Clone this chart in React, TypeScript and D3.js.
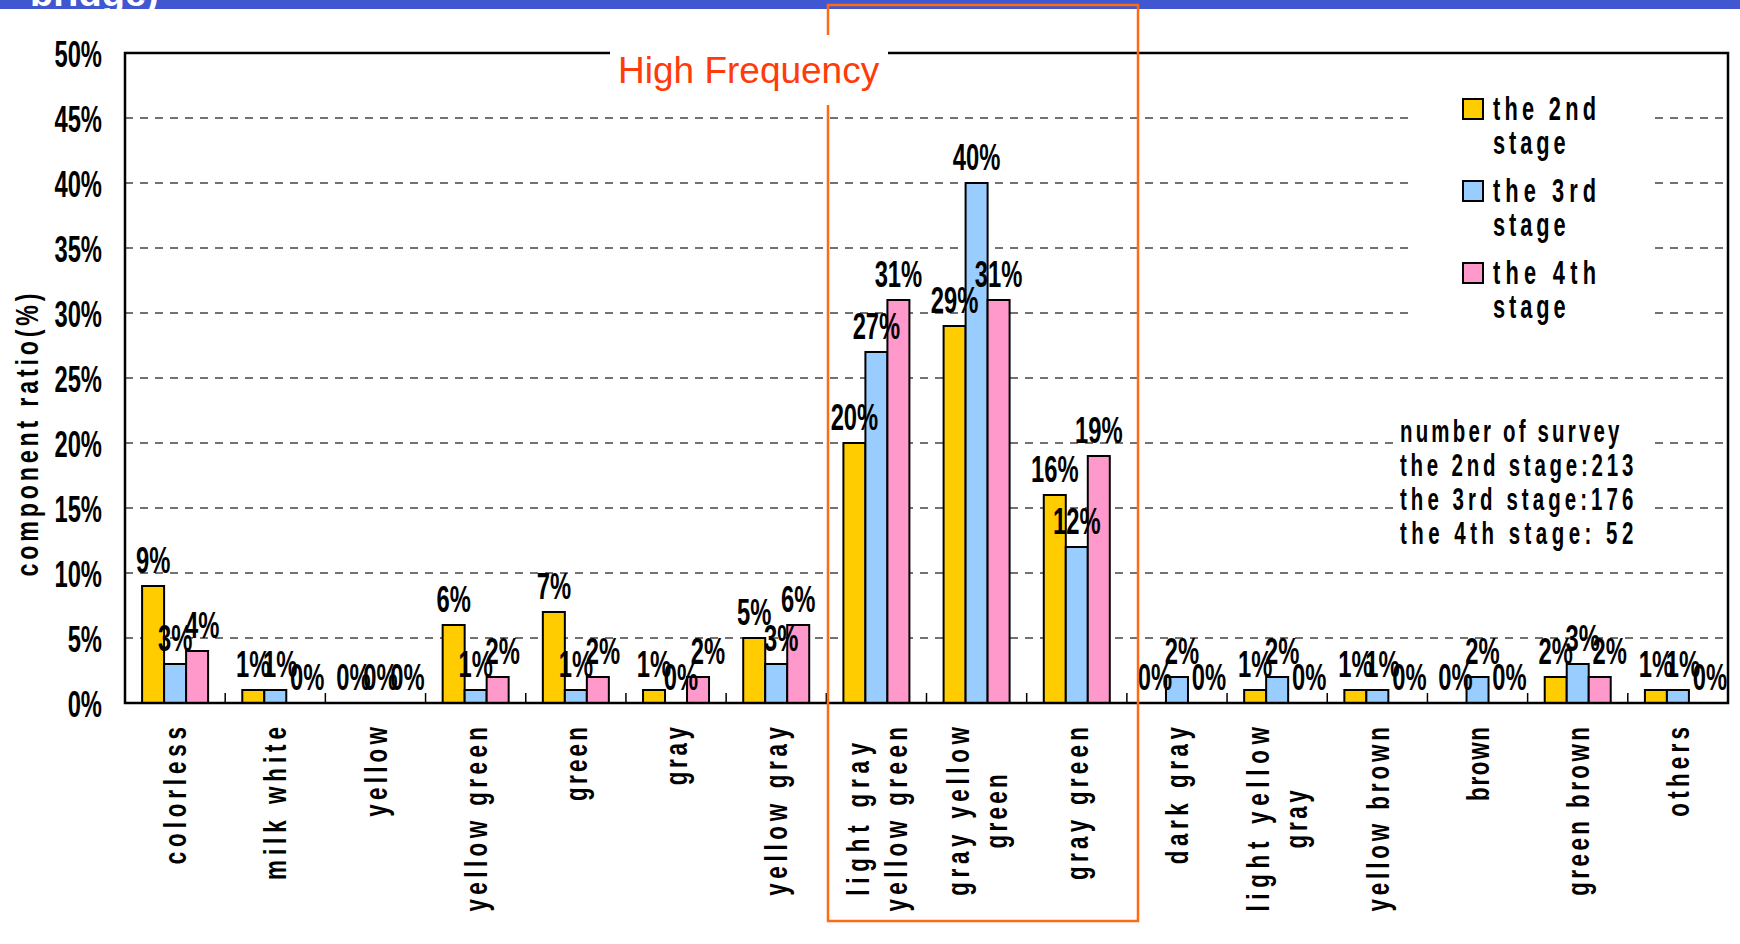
import React from "react";
import * as d3 from "d3";

const categories: string[][] = [
  ["colorless"],
  ["milk white"],
  ["yellow"],
  ["yellow green"],
  ["green"],
  ["gray"],
  ["yellow gray"],
  ["light gray", "yellow green"],
  ["gray yellow", "green"],
  ["gray green"],
  ["dark gray"],
  ["light yellow", "gray"],
  ["yellow brown"],
  ["brown"],
  ["green brown"],
  ["others"],
];
const stage2 = [9, 1, 0, 6, 7, 1, 5, 20, 29, 16, 0, 1, 1, 0, 2, 1];
const stage3 = [3, 1, 0, 1, 1, 0, 3, 27, 40, 12, 2, 2, 1, 2, 3, 1];
const stage4 = [4, 0, 0, 2, 2, 2, 6, 31, 31, 19, 0, 0, 0, 0, 2, 0];
const seriesNames = [["the 2nd", "stage"], ["the 3rd", "stage"], ["the 4th", "stage"]];
const seriesColors = ["#FFCC00", "#99CCFF", "#FF99CC"];
const yTicks = [0, 5, 10, 15, 20, 25, 30, 35, 40, 45, 50];
const surveyLines = ["number of survey", "the 2nd stage:213", "the 3rd stage:176", "the 4th stage: 52"];
const yTitle = "component ratio(%)";
const highlightTitle = "High Frequency";

const W = 1740;
const H = 944;
const M = { left: 125, right: 1728, top: 53, bottom: 703 };
const FONT = "'Liberation Sans', Arial, 'DejaVu Sans', sans-serif";

type STextProps = {
  x: number;
  y: number;
  sx: number;
  size: number;
  anchor?: "start" | "middle" | "end";
  rotate?: number;
  length?: number;
  dy?: string;
  children: React.ReactNode;
};

function SText({ x, y, sx, size, anchor = "start", rotate = 0, length, dy, children }: STextProps) {
  const tr = `translate(${x}, ${y})${rotate ? ` rotate(${rotate})` : ""} scale(${sx}, 1)`;
  return (
    <text
      transform={tr}
      textAnchor={anchor}
      dy={dy}
      fontFamily={FONT}
      fontWeight="bold"
      fontSize={size}
      fill="#000"
      textLength={length !== undefined ? length / sx : undefined}
      lengthAdjust={length !== undefined ? "spacing" : undefined}
    >
      {children}
    </text>
  );
}

export default function App() {
  const series = [stage2, stage3, stage4];
  const x0 = d3
    .scaleBand<number>()
    .domain(d3.range(categories.length))
    .range([M.left, M.right])
    .padding(0);
  const bw = 22;
  const groupW = bw * 3;
  const y = d3.scaleLinear().domain([0, 50]).range([M.bottom, M.top]);
  const band = x0.bandwidth();
  const barX = (ci: number, si: number) => (x0(ci) as number) + (band - groupW) / 2 + si * bw;

  // value label placement: nudge right when labels in a group sit at similar heights
  const minSep = 27;
  const yThresh = 30;
  const labelPos: { x: number; y: number; v: number; si: number; ci: number }[] = [];
  categories.forEach((_, ci) => {
    let prev: { x: number; y: number } | null = null;
    series.forEach((vals, si) => {
      const v = vals[ci];
      const ly = y(v) - 13;
      let lx = barX(ci, si) + bw / 2;
      if (prev && Math.abs(prev.y - ly) < yThresh && lx - prev.x < minSep) {
        lx = prev.x + minSep;
      }
      prev = { x: lx, y: ly };
      labelPos.push({ x: lx, y: ly, v, si, ci });
    });
  });

  const catPitch = 15.8;
  const labelTop = 727;
  const lineGap = 38;

  return (
    <svg
      width={W}
      height={H}
      style={{ position: "absolute", left: 0, top: 0, background: "#fff" }}
      xmlns="http://www.w3.org/2000/svg"
    >
      <defs>
        <clipPath id="bandclip">
          <rect x={0} y={0} width={W} height={9} />
        </clipPath>
      </defs>
      <rect x={0} y={0} width={W} height={H} fill="#fff" />
      {/* top band */}
      <rect x={0} y={0} width={W} height={9} fill="#4157D1" />
      <g clipPath="url(#bandclip)">
        <text x={30} y={6} fill="#fff" fontFamily={FONT} fontWeight="bold" fontSize={38}>
          bridge)
        </text>
      </g>

      {/* gridlines */}
      {yTicks
        .filter((t) => t > 0 && t < 50)
        .map((t) => (
          <line
            key={t}
            x1={M.left}
            x2={M.right}
            y1={y(t)}
            y2={y(t)}
            stroke="#444"
            strokeWidth={1.5}
            strokeDasharray="8,7"
          />
        ))}

      {/* legend background and survey background */}
      <rect x={1408} y={62} width={242} height={278} fill="#fff" />
      <rect x={1393} y={415} width={255} height={140} fill="#fff" />

      {/* x ticks inside */}
      {d3.range(categories.length + 1).map((i) => {
        const xx = M.left + i * band;
        return <line key={i} x1={xx} x2={xx} y1={M.bottom} y2={M.bottom - 10} stroke="#000" strokeWidth={1.5} />;
      })}

      {/* bars */}
      {series.map((vals, si) =>
        vals.map((v, ci) => (
          <rect
            key={`${si}-${ci}`}
            x={barX(ci, si)}
            y={y(v)}
            width={bw}
            height={M.bottom - y(v)}
            fill={seriesColors[si]}
            stroke="#000"
            strokeWidth={2}
          />
        ))
      )}

      {/* frame */}
      <rect x={M.left} y={M.top} width={M.right - M.left} height={M.bottom - M.top} fill="none" stroke="#000" strokeWidth={2.5} />

      {/* value labels */}
      {labelPos.map((p) => (
        <SText key={`l${p.si}-${p.ci}`} x={p.x} y={p.y} sx={0.66} size={36} anchor="middle">
          {`${p.v}%`}
        </SText>
      ))}

      {/* y tick labels */}
      {yTicks.map((t) => (
        <SText key={`yt${t}`} x={102} y={y(t) + 14} sx={0.66} size={36} anchor="end">
          {`${t}%`}
        </SText>
      ))}

      {/* y title */}
      <SText x={27} y={435} sx={0.75} size={31} anchor="middle" rotate={-90} dy="0.35em" length={283}>
        {yTitle}
      </SText>

      {/* category labels */}
      {categories.map((lines, ci) => {
        const cx = (x0(ci) as number) + band / 2;
        const maxLen = d3.max(lines, (l) => l.length) as number;
        const blockLen = maxLen * catPitch - 5;
        const yc = labelTop + blockLen / 2;
        return lines.map((ln, li) => {
          const lx = cx + (li - (lines.length - 1) / 2) * lineGap;
          return (
            <SText
              key={`c${ci}-${li}`}
              x={lx}
              y={yc}
              sx={0.7}
              size={32}
              anchor="middle"
              rotate={-90}
              dy="0.35em"
              length={ln.length * catPitch - 5}
            >
              {ln}
            </SText>
          );
        });
      })}

      {/* legend */}
      {seriesNames.map((nm, si) => {
        const ly = 99 + si * 82;
        return (
          <g key={`lg${si}`}>
            <rect x={1463} y={ly} width={20} height={20} fill={seriesColors[si]} stroke="#000" strokeWidth={2} />
            {nm.map((t, ti) => (
              <SText key={ti} x={1493} y={ly + 21 + ti * 34} sx={0.66} size={33} length={t.length * 15.3 - 4}>
                {t}
              </SText>
            ))}
          </g>
        );
      })}

      {/* survey text */}
      {surveyLines.map((t, i) => (
        <SText key={`s${i}`} x={1400} y={442 + i * 34} sx={0.66} size={31} length={t.length * 13.9 - 3}>
          {t}
        </SText>
      ))}

      {/* high frequency box */}
      <rect x={828} y={5} width={310} height={916} fill="none" stroke="#FF6A13" strokeWidth={2.5} />
      <rect x={610} y={35} width={278} height={70} fill="#fff" />
      <text x={618} y={83} fill="#FF3B0A" fontFamily={FONT} fontSize={37}>
        {highlightTitle}
      </text>
    </svg>
  );
}
